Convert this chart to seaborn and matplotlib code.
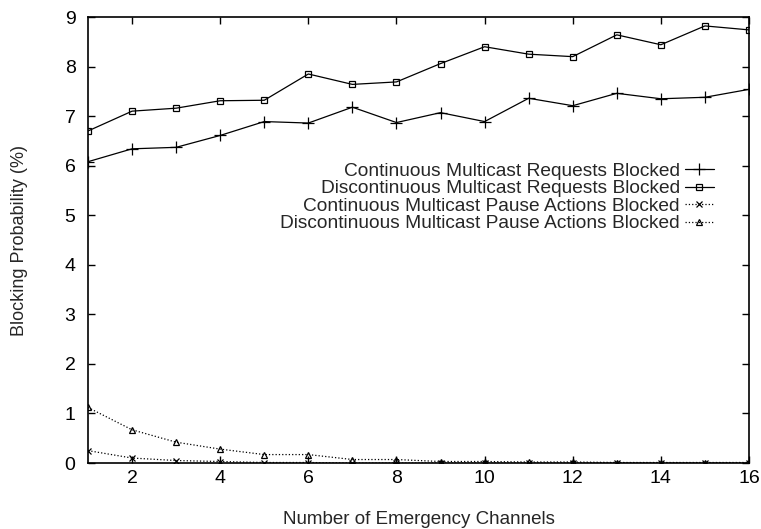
import numpy as np
import pandas as pd
import matplotlib
matplotlib.use("Agg")
import matplotlib.pyplot as plt
import seaborn as sns
from matplotlib import font_manager

channels = list(range(1, 17))
cont_requests = [6.08, 6.34, 6.37, 6.61, 6.89, 6.86, 7.18, 6.87, 7.07, 6.89, 7.36, 7.21, 7.46, 7.35, 7.38, 7.54]
disc_requests = [6.70, 7.10, 7.16, 7.31, 7.32, 7.85, 7.64, 7.69, 8.06, 8.40, 8.25, 8.20, 8.64, 8.44, 8.82, 8.74]
cont_pause = [0.25, 0.10, 0.05, 0.03, 0.01, 0.01, 0.0, 0.0, 0.0, 0.0, 0.0, 0.0, 0.0, 0.0, 0.0, 0.0]
disc_pause = [1.12, 0.67, 0.42, 0.28, 0.17, 0.17, 0.07, 0.07, 0.03, 0.03, 0.02, 0.02, 0.01, 0.01, 0.01, 0.01]

labels = ["Continuous Multicast Requests Blocked",
          "Discontinuous Multicast Requests Blocked",
          "Continuous Multicast Pause Actions Blocked",
          "Discontinuous Multicast Pause Actions Blocked"]
xticks = [2, 4, 6, 8, 10, 12, 14, 16]
yticks = list(range(0, 10))

sns.set_theme(style="ticks")
names = {f.name for f in font_manager.fontManager.ttflist}
fam = "Liberation Sans Narrow" if "Liberation Sans Narrow" in names else "Liberation Sans"
plt.rcParams["font.family"] = [fam, "DejaVu Sans"]

fig = plt.figure(figsize=(7.61, 5.29), dpi=100)
ax = fig.add_axes([88/761, 1-463/529, (749-88)/761, (463-17)/529])

series = [cont_requests, disc_requests, cont_pause, disc_pause]
markers = ["+", "s", "x", "^"]
styles = ["-", "-", ":", ":"]
msizes = [8, 5, 5, 4.5]
for vals, lab, mk, ls, ms in zip(series, labels, markers, styles, msizes):
    df = pd.DataFrame({"x": channels, "y": vals})
    sns.lineplot(data=df, x="x", y="y", ax=ax, color="black", lw=0.9,
                 linestyle=ls, marker=mk, markersize=ms, markerfacecolor="none",
                 markeredgecolor="black", markeredgewidth=0.9, label=lab)

ax.set_xlim(1, 16)
ax.set_ylim(0, 9)
ax.set_xticks(xticks)
ax.set_yticks(yticks)
ax.tick_params(direction="in", top=True, right=True, length=5, width=1,
               labelsize=14, pad=5, colors="black")
ax.tick_params(axis="y", pad=9)
for s in ax.spines.values():
    s.set_linewidth(1.2)
    s.set_color("black")
ax.set_xlabel("Number of Emergency Channels", fontsize=13.5, labelpad=17)
ax.set_ylabel("Blocking Probability (%)", fontsize=13, labelpad=26)

leg = ax.legend(loc="upper right", bbox_to_anchor=(0.962, 0.695), frameon=False,
                markerfirst=False, fontsize=13.8, labelspacing=0.0,
                handlelength=1.55, handletextpad=0.25, borderpad=0)
for t in leg.get_texts():
    t.set_ha("right")
leg._legend_box.align = "right"

fig.savefig("out.png", dpi=100)
